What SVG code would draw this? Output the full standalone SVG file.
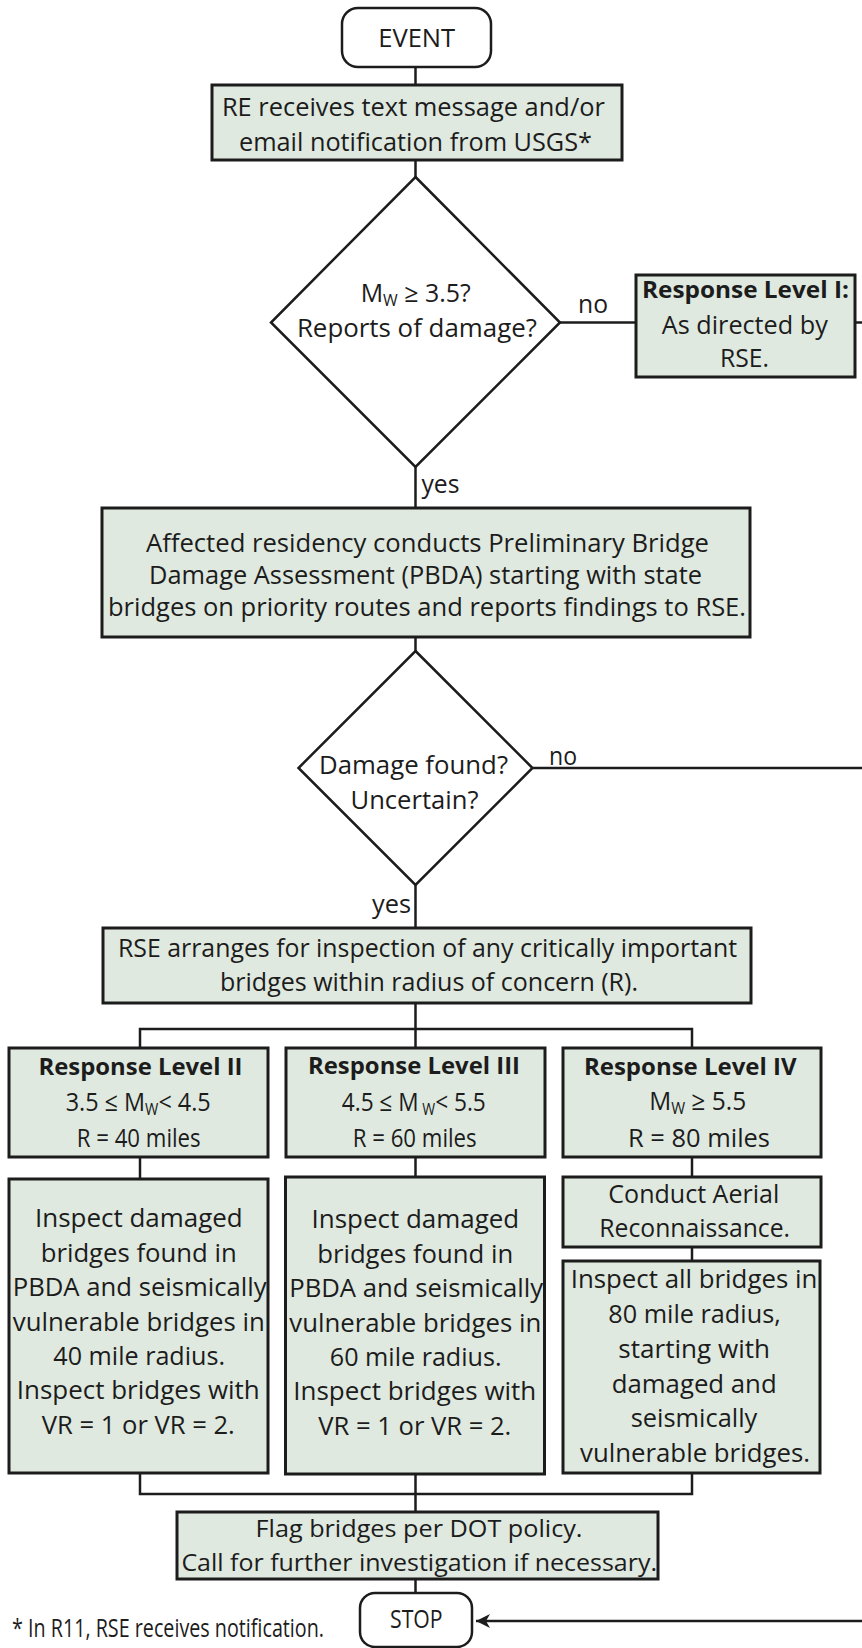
<svg xmlns="http://www.w3.org/2000/svg" width="862" height="1648" viewBox="0 0 862 1648">
<defs>
<style>
.box{fill:#dfe9df;stroke:#1c1c1c;stroke-width:3}
.term{fill:#fff;stroke:#1c1c1c;stroke-width:2.5}
.dec{fill:#fff;stroke:#1c1c1c;stroke-width:2.5}
.ln{stroke:#1c1c1c;stroke-width:2.5;fill:none}
text{font-family:"Open Sans","Noto Sans",sans-serif;fill:#1c1c1c;font-size:25px;text-anchor:middle}
.b{font-weight:bold;font-size:23px}
.s{font-size:24px}
.m{font-size:26px}
.sub{font-size:16px}
</style>
<marker id="ah" markerUnits="userSpaceOnUse" markerWidth="16" markerHeight="14" refX="14" refY="7" orient="auto">
<path d="M0,0 L14,7 L0,14 L4,7 z" fill="#1c1c1c"/>
</marker>
</defs>
<rect width="862" height="1648" fill="#fff"/>

<g id="connectors">
<line class="ln" x1="415.5" y1="67" x2="415.5" y2="85"/>
<line class="ln" x1="415.5" y1="160" x2="415.5" y2="177"/>
<line class="ln" x1="560" y1="322.5" x2="636" y2="322.5"/>
<line class="ln" x1="855" y1="322.5" x2="862" y2="322.5"/>
<line class="ln" x1="415.5" y1="467" x2="415.5" y2="508"/>
<line class="ln" x1="415.5" y1="637" x2="415.5" y2="651"/>
<line class="ln" x1="532.5" y1="768" x2="862" y2="768"/>
<line class="ln" x1="415.5" y1="885" x2="415.5" y2="928"/>
<line class="ln" x1="415.5" y1="1003" x2="415.5" y2="1048"/>
<polyline class="ln" points="140,1048 140,1029 692,1029 692,1048"/>
<line class="ln" x1="140" y1="1157" x2="140" y2="1179"/>
<line class="ln" x1="415.5" y1="1157" x2="415.5" y2="1177"/>
<line class="ln" x1="692" y1="1157" x2="692" y2="1177"/>
<line class="ln" x1="692" y1="1247" x2="692" y2="1261"/>
<polyline class="ln" points="140,1473 140,1494 692,1494 692,1473"/>
<line class="ln" x1="415.5" y1="1474" x2="415.5" y2="1512"/>
<line class="ln" x1="415.5" y1="1579" x2="415.5" y2="1593"/>
<line class="ln" x1="862" y1="1621" x2="476" y2="1621" marker-end="url(#ah)"/>
<text x="593" y="312.7" textLength="30" lengthAdjust="spacingAndGlyphs">no</text>
<text x="421.5" y="493" style="text-anchor:start" textLength="38" lengthAdjust="spacingAndGlyphs">yes</text>
<text x="563" y="765" textLength="28" lengthAdjust="spacingAndGlyphs">no</text>
<text x="411" y="913" style="text-anchor:end" textLength="39" lengthAdjust="spacingAndGlyphs">yes</text>
</g>

<g id="event">
<rect class="term" x="342" y="8" width="149" height="59" rx="16"/>
<text x="416.7" y="46.7" font-size="23" textLength="77" lengthAdjust="spacingAndGlyphs">EVENT</text>
</g>

<g id="notify">
<rect class="box" x="212" y="85" width="410" height="75"/>
<text x="413.4" y="116" textLength="383" lengthAdjust="spacingAndGlyphs">RE receives text message and/or</text>
<text x="415.5" y="150.7" textLength="353" lengthAdjust="spacingAndGlyphs">email notification from USGS*</text>
</g>

<g id="decision1">
<polygon class="dec" points="415.5,177 560,322.5 415.5,467 271,322.5"/>
<text x="415.7" y="301.7" textLength="110" lengthAdjust="spacingAndGlyphs">M<tspan class="sub" dy="4">W</tspan><tspan dy="-4"> ≥ 3.5?</tspan></text>
<text x="416.9" y="336.7" textLength="240" lengthAdjust="spacingAndGlyphs">Reports of damage?</text>
</g>

<g id="level1">
<rect class="box" x="636" y="275" width="219" height="102"/>
<text class="b" x="745.5" y="298" textLength="207" lengthAdjust="spacingAndGlyphs">Response Level I:</text>
<text x="744.8" y="334" textLength="166" lengthAdjust="spacingAndGlyphs">As directed by</text>
<text x="744.5" y="366.7" textLength="49" lengthAdjust="spacingAndGlyphs">RSE.</text>
</g>

<g id="pbda">
<rect class="box" x="102" y="508" width="648" height="129"/>
<text x="427.5" y="552" textLength="563" lengthAdjust="spacingAndGlyphs">Affected residency conducts Preliminary Bridge</text>
<text x="425.5" y="584" textLength="553" lengthAdjust="spacingAndGlyphs">Damage Assessment (PBDA) starting with state</text>
<text x="427" y="616" textLength="638" lengthAdjust="spacingAndGlyphs">bridges on priority routes and reports findings to RSE.</text>
</g>

<g id="decision2">
<polygon class="dec" points="415.5,651 532.5,768 415.5,885 298.5,768"/>
<text x="413.5" y="774" textLength="189" lengthAdjust="spacingAndGlyphs">Damage found?</text>
<text x="414.5" y="809" textLength="128" lengthAdjust="spacingAndGlyphs">Uncertain?</text>
</g>

<g id="rse">
<rect class="box" x="103" y="928" width="648" height="75"/>
<text x="427.5" y="957" textLength="619" lengthAdjust="spacingAndGlyphs">RSE arranges for inspection of any critically important</text>
<text x="429" y="990.7" textLength="418" lengthAdjust="spacingAndGlyphs">bridges within radius of concern (R).</text>
</g>

<g id="level2">
<rect class="box" x="9" y="1048" width="259" height="109"/>
<text class="b" x="140.5" y="1075" textLength="204" lengthAdjust="spacingAndGlyphs">Response Level II</text>
<text class="m" x="138.2" y="1111" textLength="145" lengthAdjust="spacingAndGlyphs">3.5 ≤ M<tspan class="sub" dy="4">W</tspan><tspan dy="-4">&lt; 4.5</tspan></text>
<text class="m" x="138.7" y="1146.7" textLength="124" lengthAdjust="spacingAndGlyphs">R = 40 miles</text>
</g>

<g id="level3">
<rect class="box" x="286" y="1048" width="259" height="109"/>
<text class="b" x="414" y="1074" textLength="212" lengthAdjust="spacingAndGlyphs">Response Level III</text>
<text class="m" x="413.8" y="1111" textLength="144" lengthAdjust="spacingAndGlyphs">4.5 ≤ M<tspan class="sub" dy="4"> W</tspan><tspan dy="-4">&lt; 5.5</tspan></text>
<text class="m" x="414.7" y="1146.7" textLength="124" lengthAdjust="spacingAndGlyphs">R = 60 miles</text>
</g>

<g id="level4">
<rect class="box" x="563" y="1048" width="258" height="109"/>
<text class="b" x="690.3" y="1075" textLength="212.7" lengthAdjust="spacingAndGlyphs">Response Level IV</text>
<text class="m" x="697.7" y="1110" textLength="97" lengthAdjust="spacingAndGlyphs">M<tspan class="sub" dy="4">W</tspan><tspan dy="-4"> ≥ 5.5</tspan></text>
<text class="m" x="699" y="1146.7" textLength="142" lengthAdjust="spacingAndGlyphs">R = 80 miles</text>
</g>

<g id="inspect2">
<rect class="box" x="9" y="1179" width="259" height="294"/>
<text x="138.9" y="1227.3" textLength="207.7" lengthAdjust="spacingAndGlyphs">Inspect damaged</text>
<text x="138.7" y="1262" textLength="196" lengthAdjust="spacingAndGlyphs">bridges found in</text>
<text x="139.7" y="1296" textLength="254" lengthAdjust="spacingAndGlyphs">PBDA and seismically</text>
<text x="138.8" y="1331" textLength="252" lengthAdjust="spacingAndGlyphs">vulnerable bridges in</text>
<text x="139.2" y="1365" textLength="171.7" lengthAdjust="spacingAndGlyphs">40 mile radius.</text>
<text x="138.3" y="1399" textLength="243" lengthAdjust="spacingAndGlyphs">Inspect bridges with</text>
<text x="138.3" y="1434" textLength="193" lengthAdjust="spacingAndGlyphs">VR = 1 or VR = 2.</text>
</g>

<g id="inspect3">
<rect class="box" x="285.5" y="1177" width="259" height="297"/>
<text x="415.4" y="1228.3" textLength="207.7" lengthAdjust="spacingAndGlyphs">Inspect damaged</text>
<text x="415.2" y="1263" textLength="196" lengthAdjust="spacingAndGlyphs">bridges found in</text>
<text x="416.2" y="1297" textLength="254" lengthAdjust="spacingAndGlyphs">PBDA and seismically</text>
<text x="415.3" y="1332" textLength="252" lengthAdjust="spacingAndGlyphs">vulnerable bridges in</text>
<text x="415.7" y="1366" textLength="171.7" lengthAdjust="spacingAndGlyphs">60 mile radius.</text>
<text x="414.8" y="1400" textLength="243" lengthAdjust="spacingAndGlyphs">Inspect bridges with</text>
<text x="414.8" y="1435" textLength="193" lengthAdjust="spacingAndGlyphs">VR = 1 or VR = 2.</text>
</g>

<g id="aerial">
<rect class="box" x="563" y="1177" width="258" height="70"/>
<text x="693.8" y="1203.3" textLength="171" lengthAdjust="spacingAndGlyphs">Conduct Aerial</text>
<text x="694.7" y="1236.7" textLength="190.7" lengthAdjust="spacingAndGlyphs">Reconnaissance.</text>
</g>

<g id="inspect4">
<rect class="box" x="563" y="1261" width="257" height="212"/>
<text x="694" y="1288.3" textLength="246.6" lengthAdjust="spacingAndGlyphs">Inspect all bridges in</text>
<text x="694.5" y="1323.3" textLength="172.4" lengthAdjust="spacingAndGlyphs">80 mile radius,</text>
<text x="694.2" y="1358.3" textLength="151.7" lengthAdjust="spacingAndGlyphs">starting with</text>
<text x="694.2" y="1393.3" textLength="165" lengthAdjust="spacingAndGlyphs">damaged and</text>
<text x="694" y="1427.3" textLength="126.6" lengthAdjust="spacingAndGlyphs">seismically</text>
<text x="695" y="1461.7" textLength="230" lengthAdjust="spacingAndGlyphs">vulnerable bridges.</text>
</g>

<g id="flag">
<rect class="box" x="177" y="1512" width="481" height="67"/>
<text class="s" x="419" y="1536.7" textLength="327" lengthAdjust="spacingAndGlyphs">Flag bridges per DOT policy.</text>
<text class="s" x="419.2" y="1570.7" textLength="475.6" lengthAdjust="spacingAndGlyphs">Call for further investigation if necessary.</text>
</g>

<g id="stop">
<rect class="term" x="360" y="1593" width="112" height="54" rx="15"/>
<text x="416.3" y="1628" font-size="22" textLength="52.6" lengthAdjust="spacingAndGlyphs">STOP</text>
</g>

<g id="footnote">
<text x="12" y="1637" font-size="21" style="text-anchor:start" textLength="312" lengthAdjust="spacingAndGlyphs">* In R11, RSE receives notification.</text>
</g>
</svg>
